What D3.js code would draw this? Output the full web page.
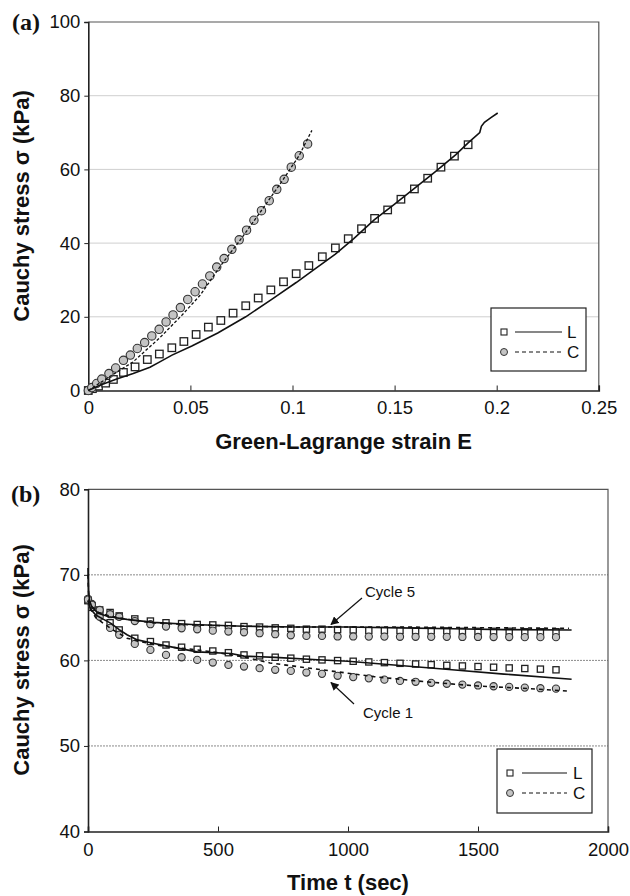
<!DOCTYPE html>
<html>
<head>
<meta charset="utf-8">
<script src="https://cdn.jsdelivr.net/npm/d3@7"></script>
<style>
html,body{margin:0;padding:0;background:#fff;}
svg{display:block;}
</style>
</head>
<body>
<svg id="chart" width="630" height="896"></svg>
<script>
// ---------- Panel (a) data ----------
const strainL = [0, 0.002, 0.005, 0.0085, 0.0123, 0.0172, 0.0229, 0.0289, 0.0348, 0.0409, 0.0468, 0.0528, 0.0588, 0.0649, 0.0709, 0.0771, 0.0832, 0.0894, 0.0956, 0.1018, 0.108, 0.1146, 0.121, 0.1273, 0.1338, 0.1402, 0.1466, 0.1531, 0.1597, 0.1662, 0.1727, 0.1793, 0.186];
const stressL = [0, 0.5, 1.2, 2.0, 3.0, 4.9, 6.4, 8.4, 9.9, 11.6, 13.3, 15.2, 17.2, 19.0, 21.0, 23.0, 25.1, 27.3, 29.5, 31.7, 33.9, 36.3, 38.7, 41.2, 43.9, 46.7, 49.0, 51.9, 54.7, 57.6, 60.6, 63.6, 66.7];
const strainC = [0, 0.0017, 0.0041, 0.0066, 0.0101, 0.0134, 0.0172, 0.0206, 0.024, 0.0276, 0.0311, 0.0347, 0.0381, 0.0415, 0.0451, 0.0487, 0.0523, 0.0559, 0.0595, 0.0629, 0.0665, 0.0703, 0.0739, 0.0775, 0.0811, 0.0848, 0.0886, 0.0923, 0.0959, 0.0994, 0.1033, 0.1074];
const stressC = [0, 0.8, 1.9, 3.1, 4.6, 6.1, 8.2, 9.6, 11.4, 13.0, 14.8, 16.6, 18.6, 20.5, 22.5, 24.7, 26.8, 28.9, 31.1, 33.5, 35.8, 38.3, 40.9, 43.5, 46.2, 48.8, 51.5, 54.6, 57.3, 60.6, 63.7, 66.9];
const modelStrainL = [0, 0.0057, 0.0139, 0.022, 0.0302, 0.0348, 0.041, 0.0507, 0.0634, 0.0771, 0.09, 0.1018, 0.108, 0.121, 0.130, 0.140, 0.150, 0.160, 0.170, 0.180, 0.186, 0.1917, 0.1925, 0.194, 0.197, 0.2005];
const modelStressL = [0, 1.4, 3.1, 4.6, 6.3, 7.7, 9.6, 12.1, 15.6, 20.0, 24.8, 29.3, 31.8, 37.0, 41.2, 46.3, 50.6, 55.0, 59.4, 64.0, 67.2, 70.0, 71.7, 72.8, 74.0, 75.3];
const modelStrainC = [0, 0.01, 0.022, 0.035, 0.0458, 0.055, 0.065, 0.075, 0.085, 0.095, 0.1033, 0.1095];
const modelStressC = [0, 3.6, 7.8, 14.3, 20.4, 26.0, 34.0, 41.3, 49.0, 56.9, 63.8, 70.6];
const xTicksA = [0, 0.05, 0.1, 0.15, 0.2, 0.25];
const xTickLabelsA = ["0", "0.05", "0.1", "0.15", "0.2", "0.25"];
const yTicksA = [0, 20, 40, 60, 80, 100];

// ---------- Panel (b) data ----------
const timePts = [0, 15, 45, 85, 120, 180, 240, 300, 360, 420, 480, 540, 600, 660, 720, 780, 840, 900, 960, 1020, 1080, 1140, 1200, 1260, 1320, 1380, 1440, 1500, 1560, 1620, 1680, 1740, 1800];
const cycle5L = [67.0, 66.4, 65.9, 65.6, 65.2, 64.85, 64.6, 64.4, 64.3, 64.2, 64.15, 64.1, 63.95, 63.9, 63.8, 63.75, 63.65, 63.65, 63.6, 63.55, 63.5, 63.5, 63.5, 63.45, 63.45, 63.45, 63.4, 63.4, 63.4, 63.4, 63.35, 63.35, 63.35];
const cycle5C = [67.2, 66.6, 65.9, 65.4, 65.1, 64.6, 64.23, 63.95, 63.76, 63.64, 63.48, 63.37, 63.29, 63.18, 63.06, 62.94, 62.86, 62.86, 62.8, 62.8, 62.78, 62.78, 62.76, 62.76, 62.75, 62.75, 62.74, 62.74, 62.73, 62.73, 62.72, 62.72, 62.72];
const cycle1L = [67.0, 66.2, 65.6, 64.4, 63.56, 62.59, 62.2, 61.8, 61.54, 61.3, 61.1, 60.9, 60.64, 60.53, 60.37, 60.26, 60.14, 60.06, 59.98, 59.9, 59.82, 59.74, 59.66, 59.58, 59.5, 59.42, 59.35, 59.28, 59.2, 59.12, 59.05, 58.98, 58.9];
const cycle1C = [67.1, 66.5, 65.1, 63.8, 63.0, 61.93, 61.23, 60.64, 60.37, 60.06, 59.75, 59.47, 59.28, 59.09, 58.9, 58.77, 58.58, 58.43, 58.2, 58.05, 57.9, 57.75, 57.6, 57.5, 57.38, 57.27, 57.17, 57.07, 56.98, 56.9, 56.82, 56.75, 56.7];
const modelTime5L = [0, 2, 6, 15, 40, 80, 150, 250, 400, 600, 800, 1000, 1200, 1400, 1600, 1860];
const modelStress5L = [70.8, 68.2, 67.0, 66.2, 65.5, 65.1, 64.8, 64.45, 64.2, 64.0, 63.9, 63.9, 63.8, 63.7, 63.6, 63.55];
const modelTime5C = [0, 2, 6, 15, 40, 80, 150, 250, 400, 600, 800, 1000, 1200, 1400, 1600, 1850];
const modelStress5C = [70.0, 67.8, 66.8, 66.3, 65.6, 65.2, 64.8, 64.4, 64.15, 64.0, 63.9, 63.9, 63.9, 63.85, 63.8, 63.75];
const modelTime1L = [0, 10, 30, 60, 90, 120, 150, 190, 250, 300, 420, 550, 600, 720, 900, 1000, 1200, 1400, 1600, 1860];
const modelStress1L = [67.0, 66.0, 65.3, 64.8, 64.3, 63.6, 63.0, 62.4, 62.0, 61.7, 61.0, 60.8, 60.5, 60.35, 60.05, 59.9, 59.4, 58.9, 58.4, 57.8];
const modelTime1C = [0, 10, 30, 60, 100, 150, 200, 300, 400, 500, 600, 700, 800, 900, 1000, 1100, 1300, 1500, 1700, 1850];
const modelStress1C = [67.0, 66.0, 65.0, 64.3, 63.5, 62.6, 62.2, 61.6, 61.3, 60.9, 60.4, 59.7, 59.3, 58.9, 58.5, 58.1, 57.5, 57.0, 56.7, 56.4];
const xTicksB = [0, 500, 1000, 1500, 2000];
const yTicksB = [40, 50, 60, 70, 80];

const legendLabels = ["L", "C"];

// ---------- drawing ----------
const svg = d3.select("#chart");
const FONT = "'Liberation Sans', Arial, Helvetica, sans-serif";
const SERIF = "'Liberation Serif', 'Times New Roman', serif";
const TICKFS = 18.5;
const TITLEFS = 22;

function zip(xs, ys) { return xs.map((x, i) => [x, ys[i]]); }

function panel(opts) {
  const g = svg.append("g");
  const x = d3.scaleLinear().domain(opts.xDomain).range(opts.xRange);
  const y = d3.scaleLinear().domain(opts.yDomain).range(opts.yRange);

  g.append("g").selectAll("line").data(opts.grid).join("line")
    .attr("x1", opts.xRange[0]).attr("x2", opts.xRange[1])
    .attr("y1", d => y(d)).attr("y2", d => y(d))
    .attr("stroke", opts.gridColor).attr("stroke-width", 1)
    .attr("stroke-dasharray", opts.gridDash || null);

  g.append("path")
    .attr("d", `M${opts.xRange[0]},${opts.yRange[1]}H${opts.xRange[1]}V${opts.yRange[0]}`)
    .attr("fill", "none").attr("stroke", "#555").attr("stroke-width", 1.2);

  const ya = g.append("g").attr("transform", `translate(${opts.xRange[0]},0)`)
    .call(d3.axisLeft(y).tickValues(opts.yTicks).tickSize(4).tickPadding(4).tickFormat(d3.format("d")));
  ya.select(".domain").attr("stroke", "#222").attr("stroke-width", 1.6);
  ya.selectAll(".tick line").attr("stroke", "#222");
  ya.selectAll("text").attr("font-family", FONT).attr("font-size", TICKFS).attr("fill", "#111");

  const xa = g.append("g").attr("transform", `translate(0,${opts.yRange[0]})`)
    .call(d3.axisBottom(x).tickValues(opts.xTicks).tickSize(-5).tickPadding(opts.xPad)
      .tickFormat((d, i) => opts.xLabels[i]));
  xa.select(".domain").attr("stroke", "#222").attr("stroke-width", 1.6);
  xa.selectAll(".tick line").attr("stroke", "#222");
  xa.selectAll("text").attr("font-family", FONT).attr("font-size", TICKFS).attr("fill", "#111");

  return { g, x, y };
}

function squares(g, x, y, pts, s) {
  g.append("g").selectAll("rect").data(pts).join("rect")
    .attr("x", d => x(d[0]) - s / 2).attr("y", d => y(d[1]) - s / 2)
    .attr("width", s).attr("height", s)
    .attr("fill", "#fff").attr("stroke", "#222").attr("stroke-width", 1.3);
}
function circles(g, x, y, pts, r) {
  g.append("g").selectAll("circle").data(pts).join("circle")
    .attr("cx", d => x(d[0])).attr("cy", d => y(d[1])).attr("r", r)
    .attr("fill", "#c4c4c4").attr("stroke", "#333").attr("stroke-width", 1.1);
}
function line(g, x, y, pts, dash, w) {
  g.append("path").datum(pts)
    .attr("d", d3.line().x(d => x(d[0])).y(d => y(d[1])))
    .attr("fill", "none").attr("stroke", "#111").attr("stroke-width", w)
    .attr("stroke-dasharray", dash || null);
}
function legend(g, x0, y0, w, h, ySq, yCi, xm, xl1, xl2, xt, ms) {
  g.append("rect").attr("x", x0).attr("y", y0).attr("width", w).attr("height", h)
    .attr("fill", "#fff").attr("stroke", "#222").attr("stroke-width", 1.2);
  g.append("rect").attr("x", xm - ms / 2).attr("y", ySq - ms / 2).attr("width", ms).attr("height", ms)
    .attr("fill", "#fff").attr("stroke", "#222").attr("stroke-width", 1.1);
  g.append("circle").attr("cx", xm).attr("cy", yCi).attr("r", ms / 2 + 0.5)
    .attr("fill", "#c4c4c4").attr("stroke", "#333").attr("stroke-width", 1);
  g.append("line").attr("x1", xl1).attr("x2", xl2).attr("y1", ySq).attr("y2", ySq)
    .attr("stroke", "#111").attr("stroke-width", 1.2);
  g.append("line").attr("x1", xl1).attr("x2", xl2).attr("y1", yCi).attr("y2", yCi)
    .attr("stroke", "#111").attr("stroke-width", 1.2).attr("stroke-dasharray", "4,3");
  g.selectAll("text.lg").data(legendLabels).join("text").attr("class", "lg")
    .attr("x", xt).attr("y", (d, i) => (i === 0 ? ySq : yCi) + 6)
    .attr("font-family", FONT).attr("font-size", 17).attr("fill", "#111").text(d => d);
}

// ---- Panel (a) ----
const A = panel({
  xDomain: [0, 0.25], xRange: [88.3, 598.8],
  yDomain: [0, 100], yRange: [390.5, 22],
  grid: [20, 40, 60, 80], gridColor: "#cfcfcf",
  yTicks: yTicksA, xTicks: xTicksA, xLabels: xTickLabelsA, xPad: 10
});
squares(A.g, A.x, A.y, zip(strainL, stressL), 7.5);
circles(A.g, A.x, A.y, zip(strainC, stressC), 4.2);
line(A.g, A.x, A.y, zip(modelStrainL, modelStressL), null, 1.6);
line(A.g, A.x, A.y, zip(modelStrainC, modelStressC), "3,2", 1.3);
legend(A.g, 491, 308, 95, 63, 332, 352, 504, 515, 562, 567, 6);

svg.append("text").attr("x", 12).attr("y", 30).attr("font-family", SERIF).attr("font-weight", "bold")
  .attr("font-size", 24).attr("fill", "#111").text("(a)");
svg.append("text").attr("transform", "translate(29,206) rotate(-90)").attr("text-anchor", "middle")
  .attr("font-family", FONT).attr("font-weight", "bold").attr("font-size", TITLEFS).attr("fill", "#111")
  .text("Cauchy stress σ (kPa)");
svg.append("text").attr("x", 343.5).attr("y", 449).attr("text-anchor", "middle")
  .attr("font-family", FONT).attr("font-weight", "bold").attr("font-size", TITLEFS).attr("fill", "#111")
  .text("Green-Lagrange strain E");

// ---- Panel (b) ----
const B = panel({
  xDomain: [0, 2000], xRange: [88, 608],
  yDomain: [40, 80], yRange: [831.5, 489.3],
  grid: [50, 60, 70], gridColor: "#8a8a8a", gridDash: "2,1",
  yTicks: yTicksB, xTicks: xTicksB, xLabels: xTicksB.map(String), xPad: 11
});
squares(B.g, B.x, B.y, zip(timePts, cycle5L), 6.2);
squares(B.g, B.x, B.y, zip(timePts, cycle1L), 6.2);
circles(B.g, B.x, B.y, zip(timePts, cycle5C), 3.6);
circles(B.g, B.x, B.y, zip(timePts, cycle1C), 3.6);
line(B.g, B.x, B.y, zip(modelTime5L, modelStress5L), null, 1.6);
line(B.g, B.x, B.y, zip(modelTime1L, modelStress1L), null, 1.6);
line(B.g, B.x, B.y, zip(modelTime5C, modelStress5C), "4,4", 1.6);
line(B.g, B.x, B.y, zip(modelTime1C, modelStress1C), "4,4", 1.6);
legend(B.g, 497, 749, 95, 64, 773, 793, 510, 522, 567, 573, 6);

const defs = svg.append("defs");
defs.append("marker").attr("id", "arr").attr("viewBox", "0 0 10 10").attr("refX", 9).attr("refY", 5)
  .attr("markerWidth", 7).attr("markerHeight", 7).attr("orient", "auto")
  .append("path").attr("d", "M0,0L10,5L0,10z").attr("fill", "#111");
svg.append("line").attr("x1", 362).attr("y1", 598).attr("x2", 331).attr("y2", 624.5)
  .attr("stroke", "#111").attr("stroke-width", 1.2).attr("marker-end", "url(#arr)");
svg.append("text").attr("x", 365).attr("y", 597).attr("font-family", FONT).attr("font-size", 15)
  .attr("fill", "#111").text("Cycle 5");
svg.append("line").attr("x1", 354).attr("y1", 704).attr("x2", 331).attr("y2", 682.5)
  .attr("stroke", "#111").attr("stroke-width", 1.2).attr("marker-end", "url(#arr)");
svg.append("text").attr("x", 363).attr("y", 718).attr("font-family", FONT).attr("font-size", 15)
  .attr("fill", "#111").text("Cycle 1");

svg.append("text").attr("x", 11).attr("y", 502).attr("font-family", SERIF).attr("font-weight", "bold")
  .attr("font-size", 24).attr("fill", "#111").text("(b)");
svg.append("text").attr("transform", "translate(29,660) rotate(-90)").attr("text-anchor", "middle")
  .attr("font-family", FONT).attr("font-weight", "bold").attr("font-size", TITLEFS).attr("fill", "#111")
  .text("Cauchy stress σ (kPa)");
svg.append("text").attr("x", 348).attr("y", 890).attr("text-anchor", "middle")
  .attr("font-family", FONT).attr("font-weight", "bold").attr("font-size", TITLEFS).attr("fill", "#111")
  .text("Time t (sec)");
</script>
</body>
</html>
